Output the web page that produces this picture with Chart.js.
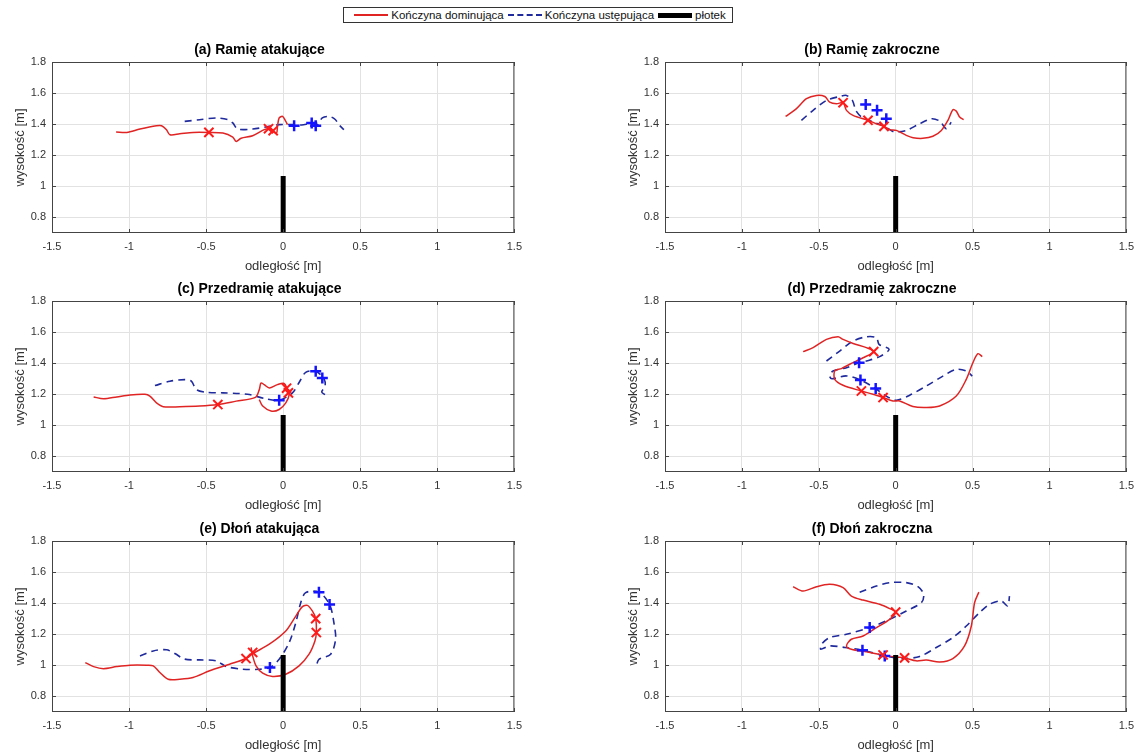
<!DOCTYPE html>
<html lang="pl">
<head>
<meta charset="UTF-8">
<title>Trajektorie kończyn nad płotkiem</title>
<style>
    body {
        margin: 0;
        background: #fff;
        font-family: "Liberation Sans", Arial, sans-serif;
    }

    #wrap {
        position: relative;
        width: 1142px;
        height: 755px;
        overflow: hidden;
    }

    canvas {
        position: absolute;
    }

    #legend {
        position: absolute;
        left: 343px;
        top: 7px;
        width: 390px;
        height: 16px;
        box-sizing: border-box;
        border: 1px solid #333;
        display: flex;
        align-items: center;
        justify-content: center;
        font-size: 11.5px;
        color: #111;
        white-space: nowrap;
    }

    #legend .sw {
        display: inline-block;
        width: 34px;
        margin: 0 3px 0 4px;
    }

    #legend .red { border-top: 2px solid #e02424; }
    #legend .blue { border-top: 2px dashed #1f2a9c; }
    #legend .black { height: 5px; background: #000; }
</style>
</head>
<body>
<div id="wrap">
    <div id="legend">
        <span class="sw red"></span><span>Kończyna dominująca</span>
        <span class="sw blue"></span><span>Kończyna ustępująca</span>
        <span class="sw black"></span><span>płotek</span>
    </div>
</div>

<script src="https://cdn.jsdelivr.net/npm/chart.js"></script>
<script>
    // osie
    const xTicks = [-1.5, -1, -0.5, 0, 0.5, 1, 1.5];
    const yTicks = [0.8, 1, 1.2, 1.4, 1.6, 1.8];
    const xLabel = 'odległość [m]';
    const yLabel = 'wysokość [m]';
    const hurdleTop = 1.067;

    // (a) Ramię atakujące
    const ramAtakDom = [[-1.084,1.35],[-1.015,1.347],[-0.929,1.369],[-0.822,1.39],[-0.789,1.39],[-0.757,1.364],[-0.735,1.332],[-0.671,1.338],[-0.585,1.347],[-0.482,1.347],[-0.391,1.343],[-0.327,1.317],[-0.305,1.289],[-0.273,1.31],[-0.198,1.326],[-0.123,1.365],[-0.095,1.371],[-0.069,1.354],[-0.043,1.343],[-0.037,1.386],[-0.026,1.44],[-0.004,1.45],[0.017,1.418],[0.028,1.397]];
    const ramAtakUst = [[-0.639,1.418],[-0.542,1.429],[-0.434,1.44],[-0.359,1.429],[-0.327,1.408],[-0.295,1.369],[-0.198,1.369],[-0.112,1.382],[-0.026,1.397],[0.06,1.397],[0.12,1.395],[0.185,1.405],[0.22,1.395],[0.254,1.44],[0.3,1.45],[0.338,1.43],[0.361,1.397],[0.394,1.365]];
    const ramAtakDomPkt = [[-0.482,1.347],[-0.095,1.371],[-0.065,1.358]];
    const ramAtakUstPkt = [[0.071,1.39],[0.185,1.408],[0.211,1.39]];

    // (b) Ramię zakroczne
    const ramZakrDom = [[-0.716,1.45],[-0.645,1.5],[-0.58,1.564],[-0.515,1.585],[-0.461,1.578],[-0.429,1.542],[-0.385,1.531],[-0.342,1.538],[-0.32,1.489],[-0.277,1.457],[-0.18,1.425],[-0.126,1.403],[-0.076,1.386],[-0.039,1.365],[0.004,1.36],[0.069,1.328],[0.113,1.313],[0.177,1.309],[0.242,1.322],[0.297,1.36],[0.34,1.425],[0.372,1.493],[0.394,1.484],[0.416,1.446],[0.442,1.429]];
    const ramZakrUst = [[-0.613,1.425],[-0.537,1.489],[-0.45,1.553],[-0.364,1.578],[-0.32,1.585],[-0.28,1.55],[-0.26,1.49],[-0.22,1.445],[-0.15,1.415],[-0.08,1.39],[-0.03,1.36],[-0.006,1.35],[0.069,1.36],[0.156,1.403],[0.232,1.435],[0.286,1.42],[0.329,1.371],[0.361,1.412]];
    const ramZakrDomPkt = [[-0.342,1.538],[-0.18,1.425],[-0.076,1.386]];
    const ramZakrUstPkt = [[-0.195,1.527],[-0.121,1.489],[-0.061,1.435]];

    // (c) Przedramię atakujące
    const przAtakDom = [[-1.23,1.183],[-1.166,1.171],[-1.08,1.183],[-0.994,1.196],[-0.897,1.2],[-0.865,1.188],[-0.822,1.145],[-0.778,1.12],[-0.671,1.12],[-0.542,1.124],[-0.424,1.134],[-0.305,1.156],[-0.18,1.18],[-0.155,1.23],[-0.144,1.273],[-0.123,1.262],[-0.09,1.241],[-0.037,1.262],[0.006,1.269],[0.028,1.23],[0.039,1.198],[0.017,1.145],[-0.026,1.102],[-0.079,1.092],[-0.133,1.124],[-0.155,1.166]];
    const przAtakUst = [[-0.832,1.256],[-0.735,1.284],[-0.639,1.294],[-0.596,1.284],[-0.563,1.23],[-0.499,1.213],[-0.391,1.209],[-0.284,1.205],[-0.219,1.198],[-0.112,1.171],[-0.026,1.162],[0.06,1.209],[0.108,1.284],[0.146,1.341],[0.211,1.348],[0.265,1.299],[0.272,1.25],[0.25,1.215],[0.275,1.195]];
    const przAtakDomPkt = [[-0.424,1.134],[0.022,1.239],[0.034,1.209]];
    const przAtakUstPkt = [[-0.026,1.162],[0.211,1.348],[0.254,1.305]];

    // (d) Przedramię zakroczne
    const przZakrDom = [[-0.602,1.474],[-0.537,1.5],[-0.45,1.553],[-0.375,1.57],[-0.342,1.553],[-0.277,1.527],[-0.19,1.5],[-0.143,1.474],[-0.212,1.435],[-0.299,1.393],[-0.353,1.365],[-0.396,1.35],[-0.396,1.296],[-0.342,1.258],[-0.223,1.221],[-0.147,1.2],[-0.082,1.179],[-0.018,1.157],[0.026,1.157],[0.112,1.121],[0.199,1.115],[0.286,1.125],[0.394,1.189],[0.459,1.296],[0.502,1.403],[0.535,1.461],[0.563,1.442]];
    const przZakrUst = [[-0.45,1.414],[-0.364,1.478],[-0.277,1.542],[-0.19,1.57],[-0.125,1.564],[-0.108,1.521],[-0.043,1.489],[-0.104,1.442],[-0.19,1.414],[-0.238,1.403],[-0.32,1.371],[-0.407,1.35],[-0.43,1.32],[-0.415,1.3],[-0.32,1.318],[-0.229,1.292],[-0.13,1.237],[-0.071,1.194],[0.004,1.162],[0.091,1.194],[0.199,1.253],[0.307,1.317],[0.394,1.36],[0.459,1.35],[0.498,1.317]];
    const przZakrDomPkt = [[-0.143,1.474],[-0.223,1.221],[-0.082,1.179]];
    const przZakrUstPkt = [[-0.238,1.403],[-0.229,1.292],[-0.13,1.237]];

    // (e) Dłoń atakująca
    const dlonAtakDom = [[-1.284,1.018],[-1.23,0.992],[-1.166,0.979],[-1.08,0.992],[-0.994,1.001],[-0.886,1.001],[-0.843,0.997],[-0.8,0.954],[-0.746,0.911],[-0.671,0.911],[-0.585,0.922],[-0.477,0.965],[-0.348,1.007],[-0.241,1.044],[-0.198,1.075],[-0.09,1.136],[0.017,1.221],[0.082,1.317],[0.125,1.378],[0.157,1.386],[0.189,1.35],[0.211,1.301],[0.215,1.211],[0.206,1.157],[0.168,1.072],[0.103,0.997],[0.017,0.943],[-0.069,0.929],[-0.133,0.95],[-0.176,0.997],[-0.198,1.061],[-0.208,1.115]];
    const dlonAtakUst = [[-0.929,1.061],[-0.843,1.093],[-0.757,1.1],[-0.703,1.076],[-0.639,1.04],[-0.542,1.035],[-0.434,1.029],[-0.37,0.993],[-0.263,0.975],[-0.155,0.975],[-0.086,0.986],[-0.026,1.039],[0.039,1.147],[0.082,1.275],[0.114,1.403],[0.146,1.468],[0.232,1.471],[0.301,1.392],[0.329,1.275],[0.34,1.168],[0.308,1.072],[0.232,1.039],[0.215,0.997]];
    const dlonAtakDomPkt = [[-0.241,1.044],[-0.198,1.083],[0.211,1.301],[0.215,1.211]];
    const dlonAtakUstPkt = [[-0.086,0.986],[0.232,1.471],[0.301,1.392]];

    // (f) Dłoń zakroczna
    const dlonZakrDom = [[-0.667,1.506],[-0.602,1.478],[-0.515,1.506],[-0.429,1.521],[-0.342,1.5],[-0.288,1.446],[-0.212,1.42],[-0.104,1.393],[-0.039,1.365],[0.0,1.343],[-0.039,1.296],[-0.125,1.243],[-0.212,1.189],[-0.288,1.168],[-0.32,1.125],[-0.288,1.104],[-0.19,1.087],[-0.082,1.067],[-0.006,1.054],[0.058,1.048],[0.134,1.029],[0.199,1.035],[0.286,1.022],[0.372,1.044],[0.448,1.125],[0.492,1.253],[0.513,1.403],[0.541,1.471]];
    const dlonZakrUst = [[-0.234,1.471],[-0.125,1.51],[-0.039,1.532],[0.069,1.532],[0.145,1.506],[0.182,1.457],[0.167,1.403],[0.069,1.35],[-0.039,1.296],[-0.169,1.243],[-0.32,1.2],[-0.429,1.179],[-0.482,1.136],[-0.487,1.104],[-0.43,1.125],[-0.33,1.115],[-0.216,1.097],[-0.071,1.061],[0.047,1.044],[0.156,1.057],[0.264,1.115],[0.372,1.179],[0.459,1.253],[0.545,1.339],[0.61,1.393],[0.686,1.414],[0.729,1.382],[0.74,1.446]];
    const dlonZakrDomPkt = [[0.0,1.343],[-0.082,1.067],[0.058,1.048]];
    const dlonZakrUstPkt = [[-0.169,1.243],[-0.216,1.097],[-0.071,1.061]];

    Chart.defaults.font.family = '"Liberation Sans", Arial, sans-serif';

    const lineRed = '#e02424';
    const lineBlue = '#1f2a9c';
    const markRed = '#ff1a1a';
    const markBlue = '#1414ff';
    const gridColor = '#e2e2e2';
    const axisColor = '#333';

    const panels = [
        { title: '(a) Ramię atakujące', dom: ramAtakDom, ust: ramAtakUst, domPkt: ramAtakDomPkt, ustPkt: ramAtakUstPkt, left: 2, top: 36, w: 527 },
        { title: '(b) Ramię zakroczne', dom: ramZakrDom, ust: ramZakrUst, domPkt: ramZakrDomPkt, ustPkt: ramZakrUstPkt, left: 615, top: 36, w: 526 },
        { title: '(c) Przedramię atakujące', dom: przAtakDom, ust: przAtakUst, domPkt: przAtakDomPkt, ustPkt: przAtakUstPkt, left: 2, top: 275, w: 527 },
        { title: '(d) Przedramię zakroczne', dom: przZakrDom, ust: przZakrUst, domPkt: przZakrDomPkt, ustPkt: przZakrUstPkt, left: 615, top: 275, w: 526 },
        { title: '(e) Dłoń atakująca', dom: dlonAtakDom, ust: dlonAtakUst, domPkt: dlonAtakDomPkt, ustPkt: dlonAtakUstPkt, left: 2, top: 515, w: 527 },
        { title: '(f) Dłoń zakroczna', dom: dlonZakrDom, ust: dlonZakrUst, domPkt: dlonZakrDomPkt, ustPkt: dlonZakrUstPkt, left: 615, top: 515, w: 526 }
    ];

    const toXY = arr => arr.map(p => ({ x: p[0], y: p[1] }));

    // ramka osi + znaczniki do środka (jak w matlabie)
    const boxPlugin = {
        id: 'box',
        afterDatasetsDraw(chart) {
            const { ctx, chartArea: a, scales: { x, y } } = chart;
            ctx.save();
            ctx.strokeStyle = '#444';
            ctx.lineWidth = 1;
            ctx.strokeRect(a.left + 0.5, a.top + 0.5, a.width - 1, a.height - 1);
            ctx.beginPath();
            xTicks.forEach(v => {
                const px = Math.round(x.getPixelForValue(v)) + 0.5;
                ctx.moveTo(px, a.bottom); ctx.lineTo(px, a.bottom - 4);
                ctx.moveTo(px, a.top); ctx.lineTo(px, a.top + 4);
            });
            yTicks.forEach(v => {
                const py = Math.round(y.getPixelForValue(v)) + 0.5;
                ctx.moveTo(a.left, py); ctx.lineTo(a.left + 4, py);
                ctx.moveTo(a.right, py); ctx.lineTo(a.right - 4, py);
            });
            ctx.stroke();
            ctx.restore();
        }
    };

    const wrap = document.getElementById('wrap');

    panels.forEach(p => {
        const cv = document.createElement('canvas');
        cv.width = p.w;
        cv.height = 239;
        cv.style.left = p.left + 'px';
        cv.style.top = p.top + 'px';
        wrap.appendChild(cv);

        new Chart(cv, {
            type: 'scatter',
            data: {
                datasets: [
                    {
                        label: 'dom-pkt', data: toXY(p.domPkt), order: 0,
                        pointStyle: 'crossRot', pointRadius: 6.5, pointBorderWidth: 2,
                        pointBorderColor: markRed, pointBackgroundColor: markRed
                    },
                    {
                        label: 'ust-pkt', data: toXY(p.ustPkt), order: 0,
                        pointStyle: 'cross', pointRadius: 5.5, pointBorderWidth: 2.5,
                        pointBorderColor: markBlue, pointBackgroundColor: markBlue
                    },
                    {
                        label: 'płotek', data: [{ x: 0, y: 0.7 }, { x: 0, y: hurdleTop }], order: 1,
                        showLine: true, borderColor: '#000', borderWidth: 5, borderCapStyle: 'butt', pointRadius: 0
                    },
                    {
                        label: 'Kończyna dominująca', data: toXY(p.dom), order: 2,
                        showLine: true, borderColor: lineRed, borderWidth: 1.5, tension: 0.3, pointRadius: 0
                    },
                    {
                        label: 'Kończyna ustępująca', data: toXY(p.ust), order: 3,
                        showLine: true, borderColor: lineBlue, borderWidth: 1.6, borderDash: [7, 5], tension: 0.3, pointRadius: 0
                    }
                ]
            },
            options: {
                responsive: false,
                animation: false,
                events: [],
                layout: { padding: { left: 0, right: 12, top: 0, bottom: 0 } },
                plugins: {
                    legend: { display: false },
                    tooltip: { enabled: false },
                    title: {
                        display: true, text: p.title, color: '#000',
                        font: { size: 14, weight: 'bold' },
                        padding: { top: 5.5, bottom: 3.7 }
                    }
                },
                scales: {
                    x: {
                        type: 'linear', min: -1.5, max: 1.5,
                        afterBuildTicks: s => { s.ticks = xTicks.map(v => ({ value: v })); },
                        afterFit: s => { s.height = 42; },
                        grid: { color: gridColor, drawTicks: false },
                        border: { display: false },
                        ticks: { color: axisColor, font: { size: 11 }, padding: 7, maxRotation: 0, autoSkip: false, callback: v => String(v) },
                        title: { display: true, text: xLabel, color: axisColor, font: { size: 13 }, padding: { top: 0, bottom: 1 } }
                    },
                    y: {
                        type: 'linear', min: 0.7, max: 1.8,
                        afterBuildTicks: s => { s.ticks = yTicks.map(v => ({ value: v })); },
                        afterFit: s => { s.width = 50; },
                        grid: { color: gridColor, drawTicks: false },
                        border: { display: false },
                        ticks: { color: axisColor, font: { size: 11 }, padding: 6, autoSkip: false, callback: v => String(v) },
                        title: { display: true, text: yLabel, color: axisColor, font: { size: 13 }, padding: { top: 11, bottom: 0 } }
                    }
                }
            },
            plugins: [boxPlugin]
        });
    });
</script>
</body>
</html>
